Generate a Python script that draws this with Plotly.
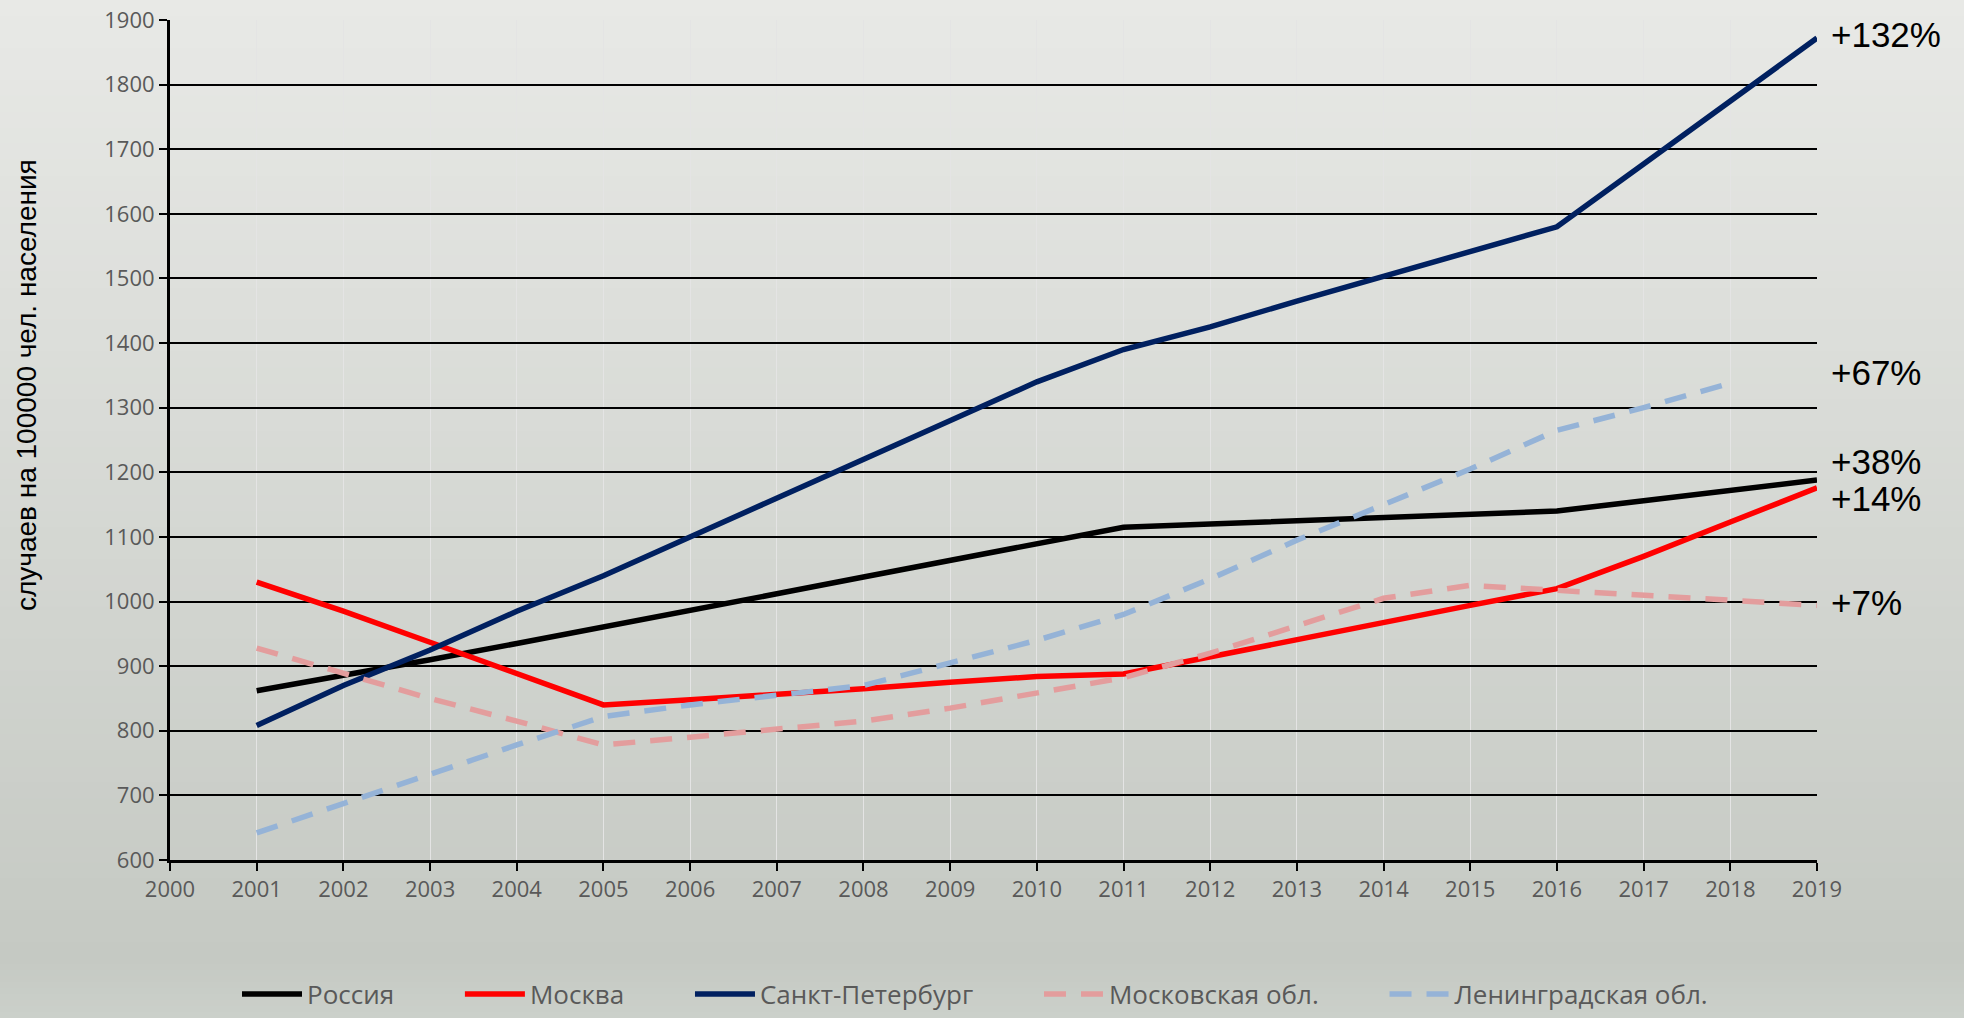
import plotly.graph_objects as go

years = list(range(2001, 2020))

russia = [862, 885, 910, 935, 960, 985, 1012, 1038, 1063, 1088, 1115,
          1120, 1125, 1130, 1135, 1140, 1156, 1172, 1188]
moscow = [1030, 985, 937, 888, 840, 848, 856, 865, 875, 884, 888,
          915, 942, 968, 994, 1020, 1070, 1123, 1176]
spb = [808, 870, 925, 985, 1040, 1100, 1160, 1220, 1280, 1340, 1390,
       1425, 1465, 1503, 1540, 1580, 1677, 1775, 1872]
mosk_obl = [928, 890, 850, 815, 778, 790, 802, 815, 835, 858, 882,
            920, 962, 1005, 1025, 1018, 1010, 1002, 994]
len_obl_years = list(range(2001, 2019))
len_obl = [642, 688, 733, 778, 822, 840, 855, 870, 905, 940, 980,
           1035, 1095, 1150, 1205, 1265, 1300, 1338]

series_names = ["Россия", "Москва", "Санкт-Петербург", "Московская обл.", "Ленинградская обл."]

growth_labels = ["+132%", "+67%", "+38%", "+14%", "+7%"]
growth_label_y = [1878, 1355, 1216, 1159, 999]

y_title = "случаев на 100000 чел. населения"

W, H = 1964, 1018
L, R, T, B = 170, 147, 20, 158
pw, ph = W - L - R, H - T - B

def px_to_paper_x(p):
    return (p - L) / pw

def px_to_paper_y(p):
    return (H - B - p) / ph

fig = go.Figure()

styles = [
    dict(color="#000000", width=5.5),
    dict(color="#ff0000", width=5.5),
    dict(color="#002060", width=5.5),
    dict(color="#e39d9d", width=5.5, dash="22px,15px"),
    dict(color="#95b3d7", width=5.5, dash="22px,15px"),
]
data = [(years, russia), (years, moscow), (years, spb), (years, mosk_obl), (len_obl_years, len_obl)]
pad = "\u00a0" * 9
for k, ((xs, ys), name, st) in enumerate(zip(data, series_names, styles)):
    fig.add_trace(go.Scatter(x=xs, y=ys, mode="lines",
                             name=name + (pad if k < len(data) - 1 else ""), line=st))

# background gradient
def lerp(c1, c2, t):
    return "#%02x%02x%02x" % tuple(round(a + (b - a) * t) for a, b in zip(c1, c2))

shapes = []
top_c, mid_c, bot_c = (0xe8, 0xe9, 0xe6), (0xc5, 0xc9, 0xc3), (0xcb, 0xd0, 0xca)
n = 60
split = 958
for i in range(n):
    p0 = split * i / n
    p1 = split * (i + 1) / n + 1
    shapes.append(dict(type="rect", xref="paper", yref="paper", layer="below",
                       x0=px_to_paper_x(-5), x1=px_to_paper_x(W + 5),
                       y0=px_to_paper_y(p1), y1=px_to_paper_y(p0 - (5 if i == 0 else 0)),
                       line=dict(width=0), fillcolor=lerp(top_c, mid_c, i / (n - 1))))
m = 10
for i in range(m):
    p0 = split + (H - split) * i / m
    p1 = split + (H - split) * (i + 1) / m + 1
    shapes.append(dict(type="rect", xref="paper", yref="paper", layer="below",
                       x0=px_to_paper_x(-5), x1=px_to_paper_x(W + 5),
                       y0=px_to_paper_y(p1 + (5 if i == m - 1 else 0)), y1=px_to_paper_y(p0),
                       line=dict(width=0), fillcolor=lerp(mid_c, bot_c, i / (m - 1))))

annotations = []
for txt, yv in zip(growth_labels, growth_label_y):
    annotations.append(dict(text=txt, xref="paper", x=1, yref="y", y=yv,
                            xanchor="left", yanchor="middle", xshift=12, showarrow=False,
                            font=dict(family="Liberation Sans, Arial", size=35, color="#000000")))
annotations.append(dict(text=y_title, xref="paper", yref="paper",
                        x=px_to_paper_x(26), y=px_to_paper_y(385),
                        xanchor="center", yanchor="middle", textangle=-90, showarrow=False,
                        font=dict(family="Liberation Sans, Arial", size=28, color="#000000")))

tick_font = dict(family="Open Sans", size=22, color="#595959")

fig.update_layout(
    width=W, height=H,
    margin=dict(l=L, r=R, t=T, b=B, pad=0, autoexpand=False),
    paper_bgcolor="#d5d8d3",
    plot_bgcolor="rgba(0,0,0,0)",
    shapes=shapes,
    annotations=annotations,
    showlegend=True,
    legend=dict(orientation="h", xref="container", yref="container",
                x=975 / W, y=(H - 994) / H,
                xanchor="center", yanchor="middle",
                font=dict(family="Open Sans", size=26, color="#595959"),
                bgcolor="rgba(0,0,0,0)", itemwidth=60),
    xaxis=dict(range=[2000, 2019], dtick=1, tick0=2000, showgrid=True,
               gridcolor="#e4e4e4", gridwidth=1,
               showline=True, linecolor="#000000", linewidth=3,
               ticks="outside", ticklen=8, tickwidth=2, tickcolor="#000000",
               tickfont=tick_font, zeroline=False, fixedrange=True, automargin=False),
    yaxis=dict(range=[600, 1900], dtick=100, tick0=600, showgrid=True,
               gridcolor="#000000", gridwidth=2,
               showline=True, linecolor="#000000", linewidth=3,
               ticks="outside", ticklen=8, tickwidth=2, tickcolor="#000000",
               tickfont=tick_font, zeroline=False, fixedrange=True, automargin=False),
)

fig.write_html("out.html", config={"displayModeBar": False},
               post_script="document.body.style.margin='0';document.body.style.overflow='hidden';")
